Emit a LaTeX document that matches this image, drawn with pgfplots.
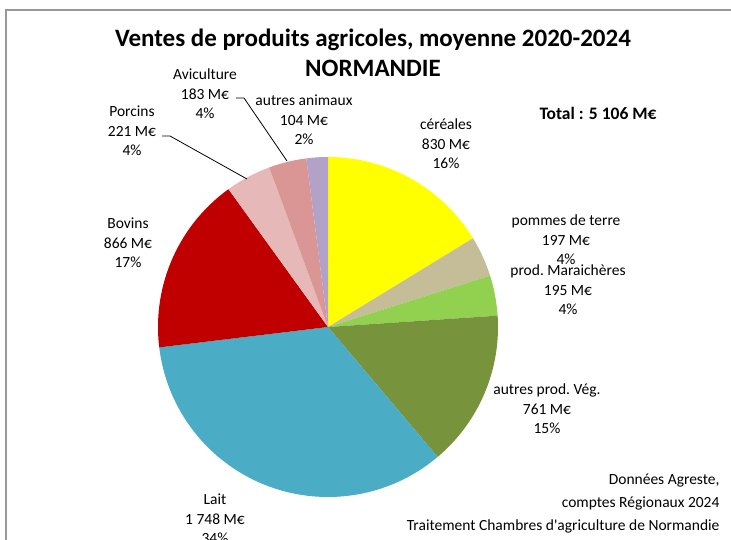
\documentclass[border=0pt]{standalone}
\usepackage{pgfplots}
\pgfplotsset{compat=1.18}
\usepackage{fontspec}
\setmainfont{Carlito}
\definecolor{cCer}{HTML}{FFFF00}
\definecolor{cPdt}{HTML}{C4BD97}
\definecolor{cMar}{HTML}{92D050}
\definecolor{cVeg}{HTML}{77933C}
\definecolor{cLait}{HTML}{4BACC6}
\definecolor{cBov}{HTML}{C00000}
\definecolor{cPor}{HTML}{E6B9B8}
\definecolor{cAvi}{HTML}{D99694}
\definecolor{cAut}{HTML}{B3A2C7}
\def\cum{0}
\def\tot{5105}
\newcommand\slice[2]{%
  \pgfmathsetmacro\aA{90-\cum/\tot*360}%
  \pgfmathsetmacro\aB{90-(\cum+#2)/\tot*360}%
  \edef\temp{\noexpand\addplot[fill=#1, draw=none, domain=\aB:\aA, samples=80, variable=\noexpand\t] ({328+170*cos(\noexpand\t)},{327-170*sin(\noexpand\t)}) -- (axis cs:328,327) -- cycle;}%
  \temp
  \pgfmathsetmacro\newcum{\cum+#2}%
  \xdef\cum{\newcum}%
}
\begin{document}
\begin{tikzpicture}[lbl/.style={align=center,font=\fontsize{15.5}{19.5}\selectfont}]
\begin{axis}[width=731pt,height=539pt,scale only axis,
  xmin=0,xmax=731,ymin=0,ymax=539,y dir=reverse,axis lines=none]
\slice{cCer}{830}
\slice{cPdt}{197}
\slice{cMar}{195}
\slice{cVeg}{761}
\slice{cLait}{1748}
\slice{cBov}{866}
\slice{cPor}{221}
\slice{cAvi}{183}
\slice{cAut}{104}
\draw[gray!80, line width=1.5pt] (axis cs:6,560) -- (axis cs:6,10) -- (axis cs:760,10);
\node[align=center,font=\bfseries\fontsize{25}{30}\selectfont] at (axis cs:373,53) {Ventes de produits agricoles, moyenne 2020-2024\\NORMANDIE};
\node[font=\bfseries\fontsize{17.5}{20}\selectfont] at (axis cs:598,113) {Total : 5 106 M€};
\node[lbl] at (axis cs:446,144) {céréales\\830 M€\\16\%};
\node[lbl] at (axis cs:566,240) {pommes de terre\\197 M€\\4\%};
\node[lbl] at (axis cs:568,290) {prod.\ Maraichères\\195 M€\\4\%};
\node[lbl] at (axis cs:547,409) {autres prod.\ Vég.\\761 M€\\15\%};
\node[lbl] at (axis cs:215,519) {Lait\\1 748 M€\\34\%};
\node[lbl] at (axis cs:128,243) {Bovins\\866 M€\\17\%};
\node[lbl] at (axis cs:132,131) {Porcins\\221 M€\\4\%};
\node[lbl] at (axis cs:205,94) {Aviculture\\183 M€\\4\%};
\node[lbl] at (axis cs:304,120) {autres animaux\\104 M€\\2\%};
\node[align=right,anchor=east,font=\fontsize{15.5}{23}\selectfont] at (axis cs:723,504) {Données Agreste,\\comptes Régionaux 2024\\Traitement Chambres d\textquotesingle agriculture de Normandie};
\draw[black, line width=0.8pt] (axis cs:236,98) -- (axis cs:244,98) -- (axis cs:287,161);
\draw[black, line width=0.8pt] (axis cs:162,136) -- (axis cs:170,136) -- (axis cs:247,179);
\end{axis}
\pgfresetboundingbox
\path[use as bounding box] (current axis.south west) rectangle (current axis.north east);
\end{tikzpicture}
\end{document}
